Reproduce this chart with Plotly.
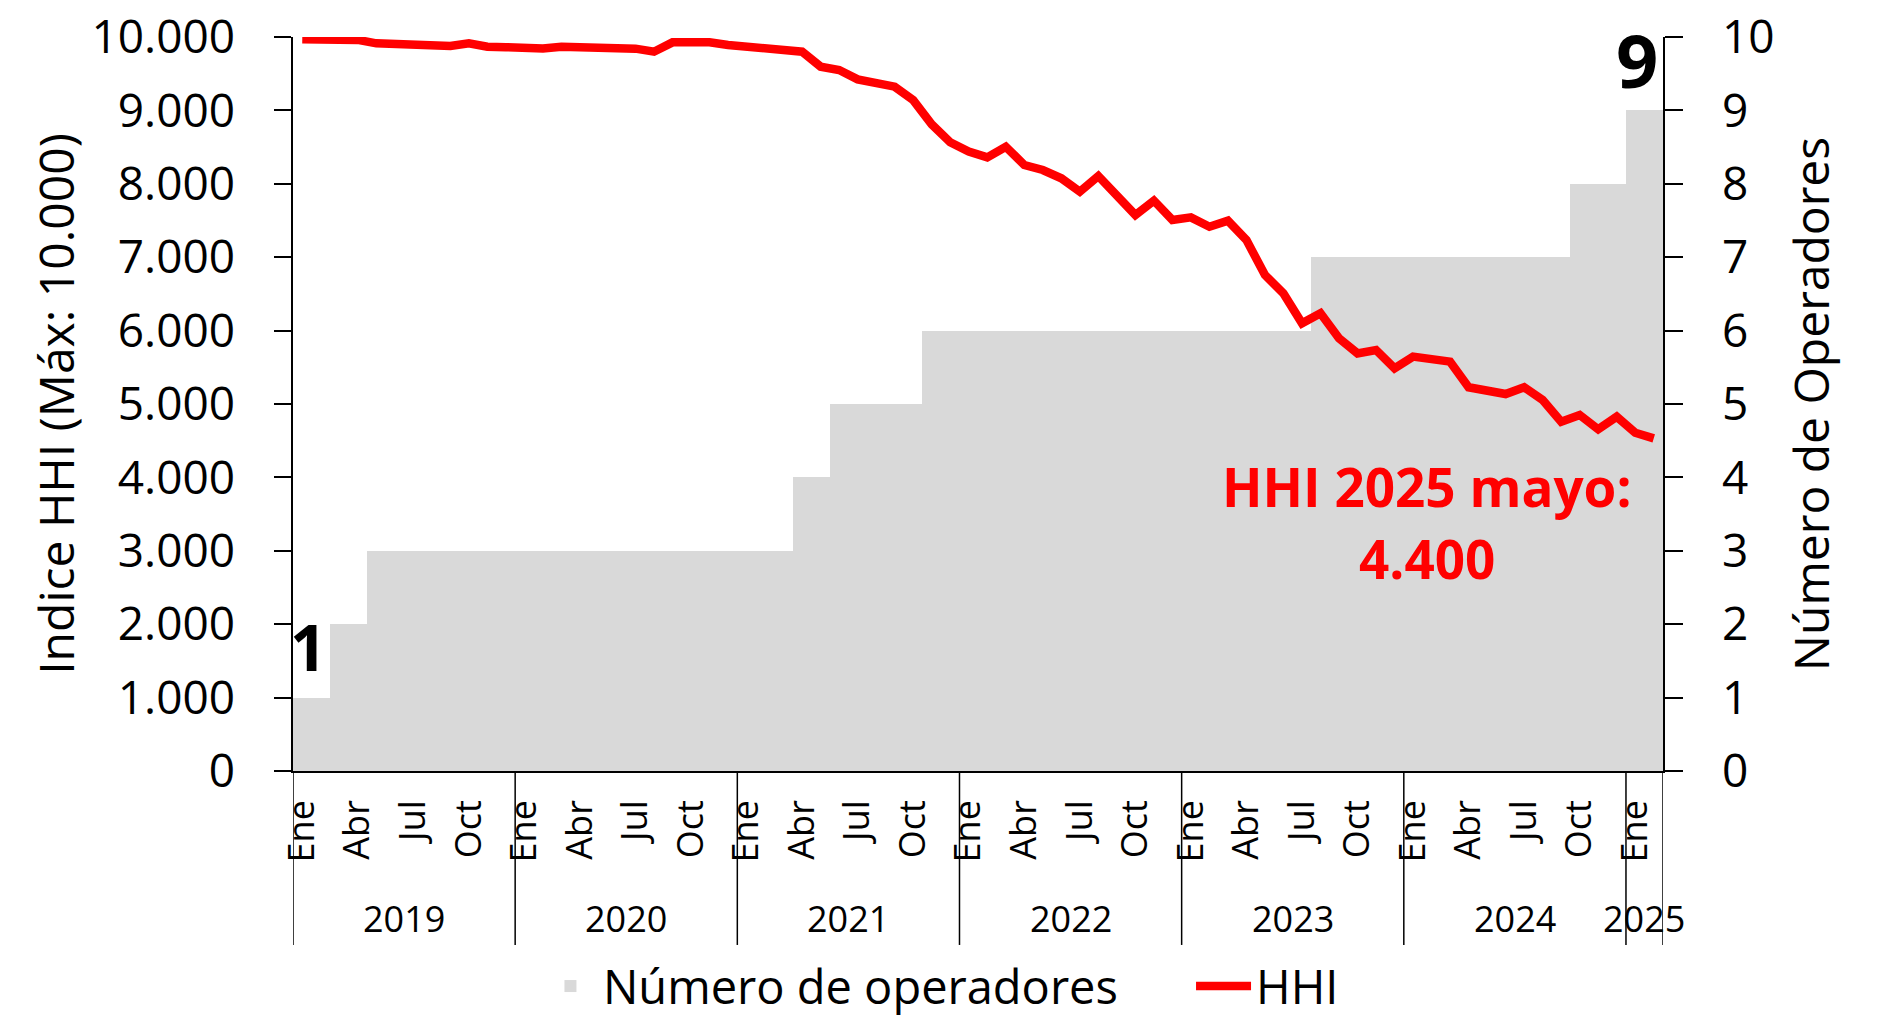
import plotly.graph_objects as go

# ---------------- data ----------------
periodos = [
    "2019-01", "2019-02", "2019-03", "2019-04", "2019-05", "2019-06", "2019-07", "2019-08", "2019-09", "2019-10", "2019-11", "2019-12",
    "2020-01", "2020-02", "2020-03", "2020-04", "2020-05", "2020-06", "2020-07", "2020-08", "2020-09", "2020-10", "2020-11", "2020-12",
    "2021-01", "2021-02", "2021-03", "2021-04", "2021-05", "2021-06", "2021-07", "2021-08", "2021-09", "2021-10", "2021-11", "2021-12",
    "2022-01", "2022-02", "2022-03", "2022-04", "2022-05", "2022-06", "2022-07", "2022-08", "2022-09", "2022-10", "2022-11", "2022-12",
    "2023-01", "2023-02", "2023-03", "2023-04", "2023-05", "2023-06", "2023-07", "2023-08", "2023-09", "2023-10", "2023-11", "2023-12",
    "2024-01", "2024-02", "2024-03", "2024-04", "2024-05", "2024-06", "2024-07", "2024-08", "2024-09", "2024-10", "2024-11", "2024-12",
    "2025-01", "2025-02",
]

numero_operadores = [
    1, 1, 2, 2, 3, 3, 3, 3, 3, 3, 3, 3,
    3, 3, 3, 3, 3, 3, 3, 3, 3, 3, 3, 3,
    3, 3, 3, 4, 4, 5, 5, 5, 5, 5, 6, 6,
    6, 6, 6, 6, 6, 6, 6, 6, 6, 6, 6, 6,
    6, 6, 6, 6, 6, 6, 6, 7, 7, 7, 7, 7,
    7, 7, 7, 7, 7, 7, 7, 7, 7, 8, 8, 8,
    9, 9,
]

hhi = [
    9970, 9965, 9962, 9960, 9914, 9905, 9895, 9885, 9877, 9914, 9868, 9862,
    9855, 9845, 9868, 9860, 9848, 9845, 9841, 9800, 9927, 9928, 9927, 9891,
    9870, 9846, 9841, 9800, 9596, 9550, 9423, 9377, 9323, 9141, 8810, 8565,
    8440, 8360, 8505, 8256, 8188, 8075, 7893, 8106, 7825, 7575, 7770, 7507,
    7543, 7415, 7497, 7234, 6757, 6507, 6100, 6236, 5895, 5690, 5736, 5486,
    5645, 5600, 5577, 5228, 5191, 5136, 5228, 5054, 4759, 4850, 4655, 4827,
    4609, 4532,
]

tick_periodos = [
    "2019-01", "2019-04", "2019-07", "2019-10",
    "2020-01", "2020-04", "2020-07", "2020-10",
    "2021-01", "2021-04", "2021-07", "2021-10",
    "2022-01", "2022-04", "2022-07", "2022-10",
    "2023-01", "2023-04", "2023-07", "2023-10",
    "2024-01", "2024-04", "2024-07", "2024-10",
    "2025-01",
]
tick_meses = ["Ene", "Abr", "Jul", "Oct"] * 6 + ["Ene"]

anios = ["2019", "2020", "2021", "2022", "2023", "2024", "2025"]
anio_centro = [5.5, 17.5, 29.5, 41.5, 53.5, 65.5, 72.5]
divisiones = [-0.5, 11.5, 23.5, 35.5, 47.5, 59.5, 71.5, 73.5]

FONT = "Open Sans"
BLACK = "#000000"

fig = go.Figure()

fig.add_trace(go.Bar(
    x=periodos, y=numero_operadores, name="Número de operadores",
    marker=dict(color="#D9D9D9", line=dict(width=0)),
    yaxis="y", legend="legend",
))
fig.add_trace(go.Scatter(
    x=periodos, y=hhi, name="HHI", mode="lines",
    line=dict(color="#FF0000", width=8.5),
    yaxis="y2", legend="legend2",
))

shapes = []
for d in divisiones:
    shapes.append(dict(type="line", xref="x", yref="paper", x0=d, x1=d, y0=0, y1=-0.237,
                       line=dict(color=BLACK, width=1.5)))

annotations = []
for a, c in zip(anios, anio_centro):
    annotations.append(dict(x=c, y=-0.2016, xref="x", yref="paper", text=a, showarrow=False,
                            font=dict(family=FONT, size=36, color=BLACK),
                            xanchor="center", yanchor="middle"))

annotations += [
    dict(x=0.36, y=1.7, xref="x", yref="y", text="<b>1</b>", showarrow=False,
         font=dict(family=FONT, size=64, color=BLACK), xanchor="center", yanchor="middle"),
    dict(x=72.1, y=9.7, xref="x", yref="y", text="<b>9</b>", showarrow=False,
         font=dict(family=FONT, size=74, color=BLACK), xanchor="center", yanchor="middle"),
    dict(x=60.76, y=3.87, xref="x", yref="y", text="<b>HHI 2025 mayo:</b>", showarrow=False,
         font=dict(family=FONT, size=53, color="#FF0000"), xanchor="center", yanchor="middle"),
    dict(x=60.76, y=2.89, xref="x", yref="y", text="<b>4.400</b>", showarrow=False,
         font=dict(family=FONT, size=53, color="#FF0000"), xanchor="center", yanchor="middle"),
]

legend_common = dict(orientation="h", yref="container", y=0.0, yanchor="bottom",
                     xanchor="left", font=dict(family=FONT, size=47, color=BLACK),
                     itemwidth=55, bgcolor="rgba(0,0,0,0)", borderwidth=0)

fig.update_layout(
    width=1884, height=1024,
    margin=dict(l=293, r=221, t=37, b=253, pad=0, autoexpand=False),
    paper_bgcolor="white", plot_bgcolor="white",
    separators=",.",
    font=dict(family=FONT, color=BLACK),
    bargap=0,
    showlegend=True,
    legend=dict(x=0.1788, **legend_common),
    legend2=dict(x=0.6555, **legend_common),
    xaxis=dict(
        type="category", range=[-0.5, 73.5], automargin=False,
        tickmode="array", tickvals=tick_periodos, ticktext=tick_meses,
        tickangle=-90, ticks="", tickfont=dict(family=FONT, size=36, color=BLACK),
        showline=True, linecolor=BLACK, linewidth=1.5,
        showgrid=False, zeroline=False, ticklabelstandoff=13,
    ),
    yaxis=dict(
        side="right", range=[0, 10], dtick=1, tick0=0, automargin=False,
        ticks="outside", ticklen=18, tickwidth=1.5, tickcolor=BLACK,
        showline=True, linecolor=BLACK, linewidth=1.5,
        showgrid=False, zeroline=False,
        tickfont=dict(family=FONT, size=46, color=BLACK), ticklabelstandoff=30,
        title=dict(text="Número de Operadores", font=dict(family=FONT, size=48, color=BLACK), standoff=22),
    ),
    yaxis2=dict(
        overlaying="y", side="left", range=[0, 10000], dtick=1000, tick0=0, automargin=False,
        tickformat=",d",
        ticks="outside", ticklen=17, tickwidth=1.5, tickcolor=BLACK,
        showline=True, linecolor=BLACK, linewidth=1.5,
        showgrid=False, zeroline=False,
        tickfont=dict(family=FONT, size=46, color=BLACK), ticklabelstandoff=30,
        title=dict(text="Indice HHI (Máx: 10.000)", font=dict(family=FONT, size=48, color=BLACK), standoff=2),
    ),
    shapes=shapes,
    annotations=annotations,
)

fig.write_html("out.html", config={"displayModeBar": False},
               post_script="document.body.style.margin='0';document.body.style.overflow='hidden';")
